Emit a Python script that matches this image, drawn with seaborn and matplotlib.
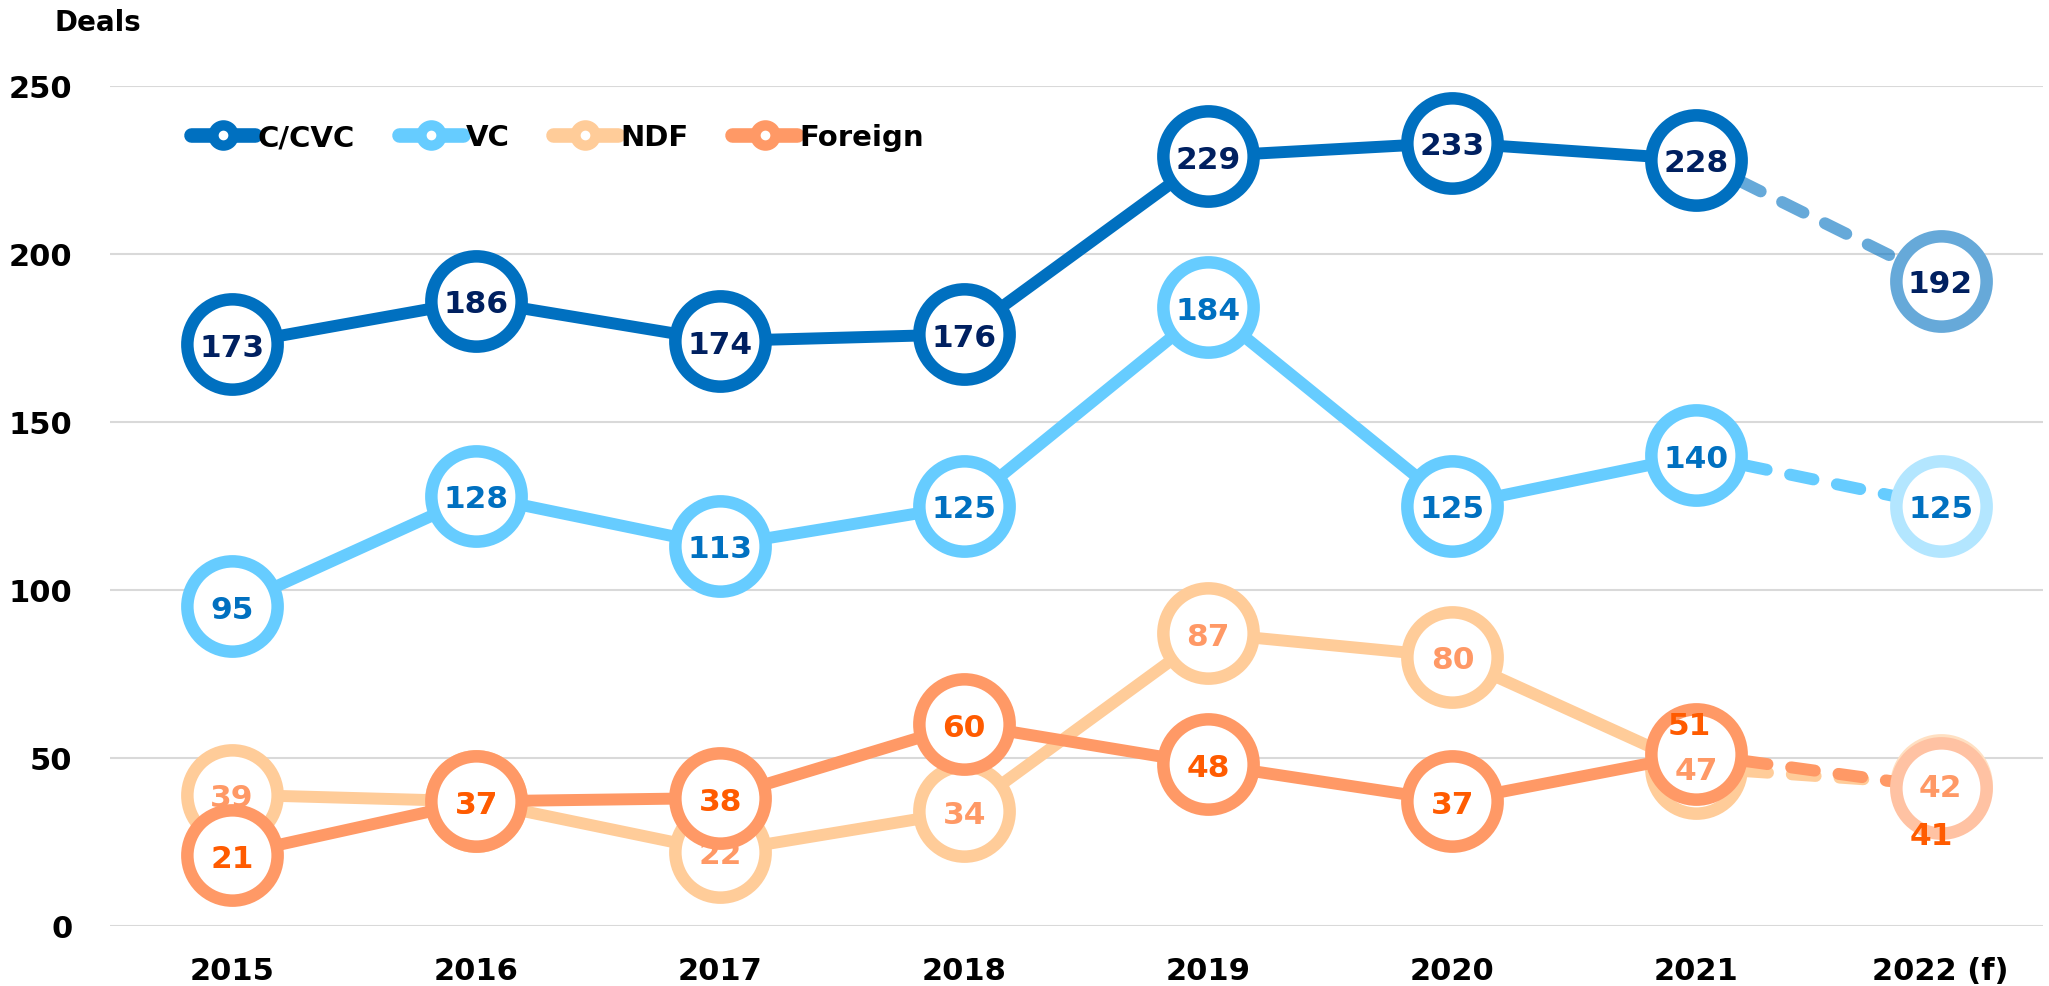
import numpy as np
import pandas as pd
import matplotlib
matplotlib.use('Agg')
import matplotlib.pyplot as plt
import seaborn as sns
from matplotlib.lines import Line2D
from matplotlib.colors import to_rgb

# values
years = ['2015', '2016', '2017', '2018', '2019', '2020', '2021', '2022 (f)']
cvc = [173, 186, 174, 176, 229, 233, 228, 192]
vc = [95, 128, 113, 125, 184, 125, 140, 125]
ndf = [39, 37, 22, 34, 87, 80, 47, 42]
foreign = [21, 37, 38, 60, 48, 37, 51, 41]
series_names = ['C/CVC', 'VC', 'NDF', 'Foreign']

line_colors = ['#0070C0', '#66CCFF', '#FFCC99', '#FF9966']
label_colors = ['#002060', '#0070C0', '#FF9966', '#FF5B00']
forecast_alpha = [0.6, 0.5, 0.6, 0.6]
dash_alpha = [0.6, 1.0, 1.0, 1.0]

# a few labels are nudged off the marker centre (points)
label_offsets = {('Foreign', 6): (-5, 23), ('Foreign', 7): (-7, -32)}

df = pd.DataFrame({'x': np.arange(len(years)), 'year': years,
                   'C/CVC': cvc, 'VC': vc, 'NDF': ndf, 'Foreign': foreign})
long = df.melt(id_vars=['x', 'year'], value_vars=series_names,
               var_name='series', value_name='deals')

sns.set_theme(style='white')
plt.rcParams['font.family'] = ['DejaVu Sans']
plt.rcParams['text.color'] = 'black'

fig = plt.figure(figsize=(20.49, 9.87), dpi=100)
ax = fig.add_axes([0.0537, 0.0611, 0.9434, 0.8511])

last = len(years) - 1
LW = 8.6
RING = 9.0
MS = 65


def blend(c, a):
    r = np.array(to_rgb(c))
    return tuple(a * r + (1 - a) * 1.0)


for i, name in enumerate(series_names):
    sub = long[long['series'] == name]
    actual = sub[sub['x'] <= last - 1]
    fc = sub[sub['x'] >= last - 1]
    col = line_colors[i]
    z = 2 + i * 3
    sns.lineplot(data=actual, x='x', y='deals', color=col, lw=LW, ax=ax,
                 zorder=z, solid_joinstyle='round', solid_capstyle='round',
                 clip_on=False)
    sns.lineplot(data=fc, x='x', y='deals', color=col, lw=LW, ax=ax,
                 zorder=z, alpha=dash_alpha[i], linestyle=(0, (2.0, 2.0)),
                 dash_capstyle='round', clip_on=False)
    sns.scatterplot(data=sub[sub['x'] < last], x='x', y='deals', s=MS ** 2,
                    color='white', edgecolor=col, linewidth=RING, ax=ax,
                    zorder=z + 1, clip_on=False)
    sns.scatterplot(data=sub[sub['x'] == last], x='x', y='deals', s=MS ** 2,
                    color='white', edgecolor=blend(col, forecast_alpha[i]),
                    linewidth=RING, ax=ax, zorder=z + 1, clip_on=False)
    for _, r in sub.iterrows():
        off = label_offsets.get((name, int(r['x'])), (0, 0))
        ax.annotate(str(int(r['deals'])), (r['x'], r['deals']), xytext=off,
                    textcoords='offset points', ha='center',
                    va='center_baseline', fontsize=22.5, fontweight='bold',
                    color=label_colors[i], zorder=30 + i,
                    annotation_clip=False)

ax.set_xlim(-0.5, 7.42)
ax.set_ylim(0, 250)
ax.set_yticks(range(0, 251, 50))
ax.set_xticks(df['x'])
ax.set_xticklabels(years)
ax.set_xlabel('')
ax.set_ylabel('')
ax.grid(axis='y', color='#D9D9D9', lw=1.5)
ax.grid(axis='x', visible=False)
for s in ax.spines.values():
    s.set_visible(False)
ax.tick_params(axis='y', length=0, pad=27, labelsize=22, labelcolor='black')
ax.tick_params(axis='x', length=0, pad=22, labelsize=22, labelcolor='black')
for t in ax.get_xticklabels() + ax.get_yticklabels():
    t.set_fontweight('bold')

handles = [Line2D([0], [0], color=c, lw=10.5, marker='o', markersize=14.5,
                  markerfacecolor='white', markeredgecolor=c,
                  markeredgewidth=7.5) for c in line_colors]
leg = fig.legend(handles, series_names, loc='center left',
                 bbox_to_anchor=(0.093, 0.860), ncol=4, frameon=False,
                 prop={'weight': 'bold', 'size': 21}, handlelength=2.2,
                 handletextpad=0.1, columnspacing=1.5, borderpad=0,
                 borderaxespad=0)
for t in leg.get_texts():
    t.set_color('black')

fig.text(98 / 2049, 1 - 23 / 987, 'Deals', ha='center', va='center',
         fontsize=20, fontweight='bold', color='black')

fig.savefig('out.png', dpi=100)
